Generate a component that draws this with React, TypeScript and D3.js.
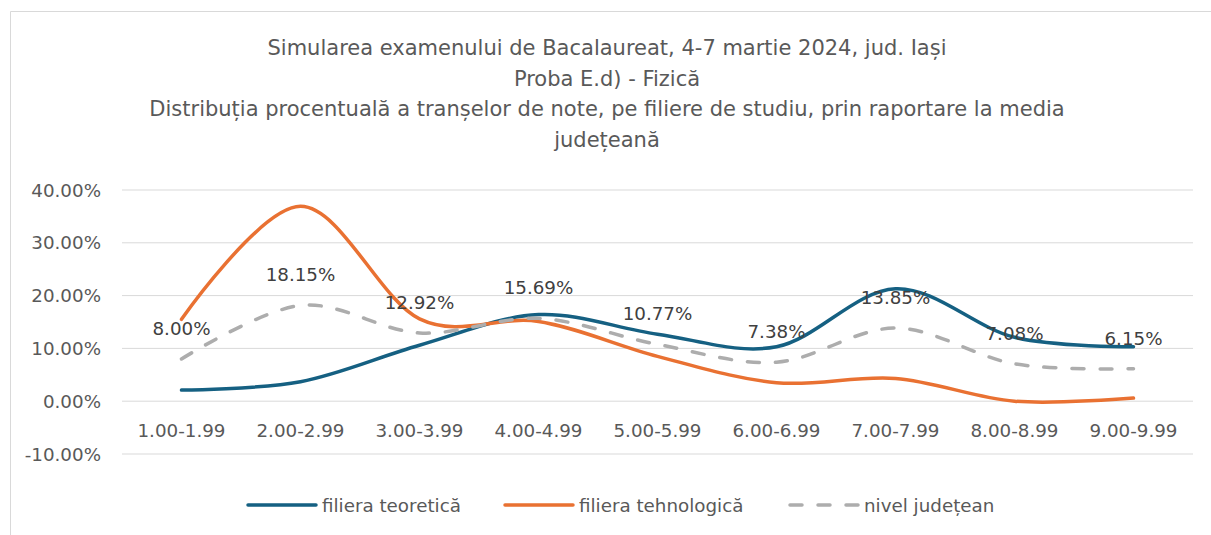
import React from 'react';
import * as d3 from 'd3';

const categories = ['1.00-1.99', '2.00-2.99', '3.00-3.99', '4.00-4.99', '5.00-5.99', '6.00-6.99', '7.00-7.99', '8.00-8.99', '9.00-9.99'];
const teoretica = [2.1, 3.7, 10.6, 16.4, 12.7, 10.3, 21.3, 12.1, 10.3];
const tehnologica = [15.5, 36.9, 15.6, 15.1, 8.5, 3.5, 4.3, 0.0, 0.6];
const judetean = [8.0, 18.15, 12.92, 15.69, 10.77, 7.38, 13.85, 7.08, 6.15];
const yTicks = [-10, 0, 10, 20, 30, 40];
const titleLines = [
  'Simularea examenului de Bacalaureat, 4-7 martie 2024, jud. Iași',
  'Proba E.d) - Fizică',
  'Distribuția procentuală a tranșelor de note, pe filiere de studiu, prin raportare la media',
  'județeană',
];

const W = 1211;
const H = 535;
const font = '"DejaVu Sans", sans-serif';
const labelSize = 18.3;

const series = [
  { name: 'filiera teoretică', values: teoretica, color: '#156082', dash: undefined as string | undefined },
  { name: 'filiera tehnologică', values: tehnologica, color: '#E97132', dash: undefined as string | undefined },
  { name: 'nivel județean', values: judetean, color: '#ADADAD', dash: '12 16' },
];

export default function App() {
  const x = d3.scaleBand<string>().domain(categories).range([122, 1193]).padding(0);
  const cx = (c: string) => (x(c) ?? 0) + x.bandwidth() / 2;
  const y = d3.scaleLinear().domain([-10, 40]).range([454, 190]);

  const line = d3
    .line<number>()
    .x((_, i) => cx(categories[i]))
    .y((d) => y(d))
    .curve(d3.curveCardinal.tension(0));

  const legendX = [248, 505, 790];

  return (
    <svg width={W} height={H} style={{ position: 'absolute', left: 0, top: 0, background: '#fff' }}>
      {/* frame */}
      <path d={`M10.5,${H} V11.5 H${W}`} fill="none" stroke="#D9D9D9" strokeWidth={1} />

      {titleLines.map((t, i) => (
        <text key={i} x={607} y={55 + i * 30.7} textAnchor="middle" fontFamily={font} fontSize={21} fill="#595959">
          {t}
        </text>
      ))}

      {yTicks.map((t) => (
        <g key={t}>
          <line x1={122} x2={1193} y1={y(t)} y2={y(t)} stroke="#D9D9D9" strokeWidth={1} />
          <text x={101} y={y(t) + 6.5} textAnchor="end" fontFamily={font} fontSize={labelSize} fill="#595959">
            {t.toFixed(2)}%
          </text>
        </g>
      ))}

      {categories.map((c) => (
        <text key={c} x={cx(c)} y={437} textAnchor="middle" fontFamily={font} fontSize={labelSize} fill="#595959">
          {c}
        </text>
      ))}

      {series.map((s) => (
        <path
          key={s.name}
          d={line(s.values) ?? ''}
          fill="none"
          stroke={s.color}
          strokeWidth={3.5}
          strokeDasharray={s.dash}
          strokeLinecap="round"
        />
      ))}

      {judetean.map((v, i) => (
        <text key={i} x={cx(categories[i])} y={y(v) - 24} textAnchor="middle" fontFamily={font} fontSize={labelSize} fill="#404040">
          {v.toFixed(2)}%
        </text>
      ))}

      {series.map((s, i) => (
        <g key={s.name} transform={`translate(${legendX[i]},505)`}>
          <line x1={0} x2={68} y1={0} y2={0} stroke={s.color} strokeWidth={3.5} strokeDasharray={s.dash} strokeLinecap="round" />
          <text x={74} y={6.5} fontFamily={font} fontSize={labelSize} fill="#595959">
            {s.name}
          </text>
        </g>
      ))}
    </svg>
  );
}
